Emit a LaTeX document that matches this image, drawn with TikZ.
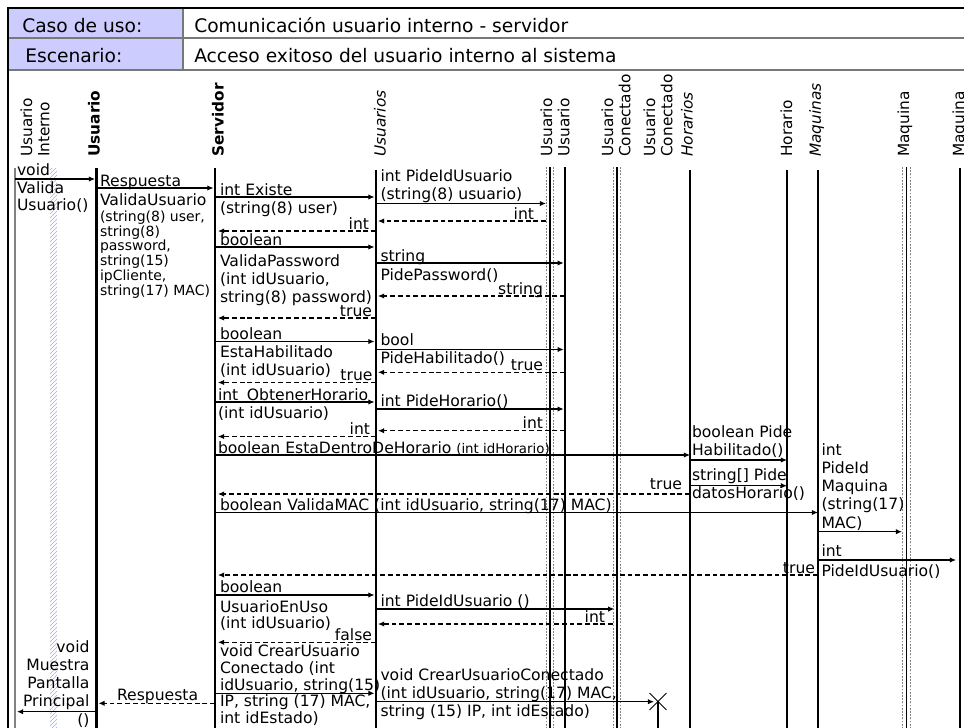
\documentclass[tikz,border=0pt]{standalone}
\usepackage{fontspec}
\setmainfont{DejaVu Sans}
\usetikzlibrary{arrows.meta,patterns,shapes.misc}

\definecolor{hdrfill}{RGB}{204,204,255}
\definecolor{rulegray}{RGB}{120,120,120}
\definecolor{hatchblue}{RGB}{170,170,230}
\definecolor{lifegray}{RGB}{130,130,130}

\tikzset{
  msg/.style={line width=0.8pt, -{Latex[length=4.6pt,width=4pt]}},
  ret/.style={dash pattern=on 3.6pt off 2.2pt},
  life/.style={line width=0.9pt},
  thicklife/.style={line width=2.2pt},
  boxedge/.style={line width=0.6pt, dash pattern=on 1.3pt off 1.1pt, lifegray},
  txt/.style={inner sep=0pt, outer sep=0pt, align=left, font=\fontsize{11.7}{13.5}\selectfont},
  small/.style={inner sep=0pt, outer sep=0pt, align=left, font=\fontsize{10.5}{9.6}\selectfont},
  head/.style={inner sep=0pt, anchor=base west, font=\fontsize{14}{16}\selectfont},
  lname/.style={inner sep=0pt, rotate=90, anchor=west, align=left, font=\fontsize{11.5}{12.8}\selectfont},
}

% a lifeline from its top down to the lower edge
\newcommand\lifeline[3][]{\draw[life,#1] (#2 |- 0,#3) -- (#2 |- 0,728);}
% a message between two lifelines at a given height
\newcommand\msgto[4][]{\draw[msg,#1] (#2 |- 0,#4) -- (#3 |- 0,#4);}

\begin{document}
\begin{tikzpicture}[x=0.75pt,y=-0.75pt]
\useasboundingbox (0,0) rectangle (964,728);

% ---- use case header table
\fill[hdrfill] (8,8) rectangle (183,70);
\draw[rulegray, line width=1.3pt] (8,38) -- (964,38);
\draw[rulegray, line width=1.1pt] (8,70) -- (964,70);
\draw[rulegray, line width=1pt] (183,8) -- (183,70);
\draw[line width=1.8pt] (964,8) -- (8,8) -- (8,728);

\node[head] (caso) at (22,32) {Caso de uso:};
\node[head] (casoval) at (194,32) {Comunicación usuario interno - servidor};
\node[head] (esc) at (25,62) {Escenario:};
\node[head] (escval) at (194,62) {Acceso exitoso del usuario interno al sistema};

% ---- participant names
\node[lname] (n-ui) at (35,157) {Usuario\\Interno};
\node[lname] (n-us) at (94,157) {\bfseries Usuario};
\node[lname] (n-sv) at (218,157) {\bfseries Servidor};
\node[lname] (n-uss) at (380,157) {\itshape Usuarios};
\node[lname] (n-uu) at (555,157) {Usuario\\Usuario};
\node[lname] (n-uc) at (616,157) {Usuario\\Conectado};
\node[lname] (n-ucn) at (658,157) {Usuario\\Conectado};
\node[lname] (n-hs) at (687,157) {\itshape Horarios};
\node[lname] (n-h) at (786.5,157) {Horario};
\node[lname] (n-ms) at (816.5,157) {\itshape Maquinas};
\node[lname] (n-m) at (905,157) {Maquina};
\node[lname] (n-m2) at (960,157) {Maquina};

% ---- lifeline positions
\coordinate (L-ui) at (15,0);
\coordinate (L-us) at (96.5,0);
\coordinate (L-sv) at (215,0);
\coordinate (L-uss) at (376,0);
\coordinate (L-uuL) at (546,0);
\coordinate (L-uu) at (550,0);
\coordinate (L-uuR) at (553,0);
\coordinate (L-uu2) at (565,0);
\coordinate (L-ucL) at (613,0);
\coordinate (L-uc) at (617,0);
\coordinate (L-ucR) at (620,0);
\coordinate (L-ucn) at (658,0);
\coordinate (L-hs) at (690,0);
\coordinate (L-h) at (787,0);
\coordinate (L-ms) at (818,0);
\coordinate (L-mL) at (902,0);
\coordinate (L-m) at (906.5,0);
\coordinate (L-mR) at (910,0);
\coordinate (L-m2) at (960,0);

% ---- lifelines
\fill[pattern=north east lines, pattern color=hatchblue] (50,168) rectangle (57,728);
\lifeline[lifegray,line width=0.8pt]{L-ui}{168}
\lifeline[thicklife]{L-us}{168}
\lifeline[thicklife]{L-sv}{168}
\lifeline[line width=1.1pt]{L-uss}{170}
\lifeline[boxedge]{L-uuL}{167}
\lifeline[boxedge]{L-uuR}{167}
\lifeline{L-uu}{167}
\lifeline{L-uu2}{167}
\lifeline[boxedge]{L-ucL}{167}
\lifeline[boxedge]{L-ucR}{167}
\lifeline{L-uc}{167}
\lifeline{L-hs}{170}
\lifeline{L-h}{170}
\lifeline{L-ms}{170}
\lifeline[boxedge]{L-mL}{167}
\lifeline[boxedge]{L-mR}{167}
\lifeline{L-m}{167}
\lifeline{L-m2}{168}
\node[draw, cross out, line width=0.7pt, minimum size=12pt, inner sep=0pt] (x-ucn) at (658,701.5) {};
\draw[life] (x-ucn.center) -- (L-ucn |- 0,728);

% ---- messages
\msgto[shorten >=1.1pt]{L-ui}{L-us}{179}
\msgto[shorten >=1.1pt]{L-us}{L-sv}{188}
\msgto[shorten >=1.1pt]{L-sv}{L-uss}{197}
\msgto{L-uss}{L-uuL}{203.5}
\msgto[ret,shorten >=1.5pt]{L-uuL}{L-uss}{221}
\msgto[ret,shorten >=2.2pt]{L-uss}{L-sv}{231}
\msgto[shorten >=1.1pt]{L-sv}{L-uss}{247}
\msgto[shorten >=1pt]{L-uss}{L-uu2}{263}
\msgto[ret,shorten >=1.5pt]{L-uu2}{L-uss}{296}
\msgto[ret,shorten >=2.2pt]{L-uss}{L-sv}{318}
\msgto[shorten >=1.1pt]{L-sv}{L-uss}{341.5}
\msgto[shorten >=1pt]{L-uss}{L-uu2}{349.5}
\msgto[ret,shorten >=1.5pt]{L-uu2}{L-uss}{372.3}
\msgto[ret,shorten >=2.2pt]{L-uss}{L-sv}{382.5}
\msgto[shorten >=1.1pt]{L-sv}{L-uss}{402}
\msgto[shorten >=1pt]{L-uss}{L-uu2}{409}
\msgto[ret,shorten >=1.5pt]{L-uu2}{L-uss}{430.7}
\msgto[ret,shorten >=2.2pt]{L-uss}{L-sv}{436.5}
\msgto{L-sv}{L-hs}{455}
\msgto{L-hs}{L-h}{460}
\msgto{L-hs}{L-h}{485.7}
\msgto[ret,shorten >=2.2pt]{L-hs}{L-sv}{494}
\msgto{L-sv}{L-ms}{512.5}
\msgto{L-ms}{L-mL}{531.7}
\msgto[shorten >=3pt]{L-ms}{L-m2}{560}
\msgto[ret,shorten >=2.2pt]{L-ms}{L-sv}{575}
\msgto[shorten >=1.1pt]{L-sv}{L-uss}{595}
\msgto[shorten >=2pt]{L-uss}{L-uc}{609}
\msgto[ret,shorten >=1.5pt]{L-ucL}{L-uss}{624}
\msgto[ret,shorten >=2.2pt]{L-uss}{L-sv}{642.3}
\msgto[shorten >=1.1pt]{L-sv}{L-uss}{693.3}
\msgto[shorten >=3pt]{L-uss}{L-ucn}{701.7}
\msgto[ret,shorten >=1.5pt]{L-sv}{L-us}{703.3}
\msgto[shorten >=1.5pt]{L-us}{L-ui}{711.7}

% ---- message texts
\node[txt, anchor=north west, font=\fontsize{11.7}{13.1}\selectfont] (m-valida) at (17,163.9) {void\\Valida\\Usuario()};
\node[txt, anchor=base west] (m-resp) at (100,186.5) {Respuesta};
\node[txt, anchor=base west] (m-validau) at (100,205) {ValidaUsuario};
\node[small, anchor=north west] (m-validaargs) at (100,210.5) {(string(8) user,\\string(8)\\password,\\string(15)\\ipCliente,\\string(17) MAC)};

\node[txt, anchor=north west] (m-existe) at (220,183.2) {int Existe\\(string(8) user)};
\node[txt, anchor=north west] (m-pideid) at (380.5,169.2) {int PideIdUsuario\\(string(8) usuario)};
\node[txt, anchor=base east] (r-int1) at (534,219.5) {int};
\node[txt, anchor=base east] (r-int2) at (369,229) {int};
\node[txt, anchor=base west] (m-bool1) at (220,245.5) {boolean};
\node[txt, anchor=north west] (m-validapw) at (220,254.7) {ValidaPassword\\(int idUsuario,\\string(8) password)};
\node[txt, anchor=base west] (m-string) at (380.5,261) {string};
\node[txt, anchor=base west] (m-pidepw) at (380.5,280) {PidePassword()};
\node[txt, anchor=base east] (r-string) at (543,294.5) {string};
\node[txt, anchor=base east] (r-true1) at (372,316.5) {true};
\node[txt, anchor=base west] (m-bool2) at (220,339.5) {boolean};
\node[txt, anchor=north west] (m-estahab) at (220,345.7) {EstaHabilitado\\(int idUsuario)};
\node[txt, anchor=base west] (m-boolb) at (380.5,345.5) {bool};
\node[txt, anchor=base west] (m-pidehab) at (380.5,363.5) {PideHabilitado()};
\node[txt, anchor=base east] (r-true2) at (543,370.5) {true};
\node[txt, anchor=base east] (r-true3) at (372.5,380.5) {true};
\node[txt, anchor=north west] (m-horario) at (218,388.2) {int\hspace{0.55em}ObtenerHorario\\(int idUsuario)};
\node[txt, anchor=base west] (m-pidehor) at (380.5,406.5) {int PideHorario()};
\node[txt, anchor=base east] (r-int3) at (543,428) {int};
\node[txt, anchor=base east] (r-int4) at (370,434.5) {int};
\node[txt, anchor=base west] (m-dentro) at (218,453.5) {boolean EstaDentroDeHorario {\fontsize{10}{12}\selectfont(int idHorario)}};
\node[txt, anchor=north west] (m-pidehab2) at (692,425.2) {boolean Pide\\Habilitado()};
\node[txt, anchor=north west] (m-datos) at (692,468.7) {string[] Pide\\datosHorario()};
\node[txt, anchor=base east] (r-true4) at (682,489) {true};
\node[txt, anchor=base west] (m-validamac) at (220,510.5) {boolean ValidaMAC (int idUsuario, string(17) MAC)};
\node[txt, anchor=north west, font=\fontsize{11.7}{13.7}\selectfont] (m-pidemaq) at (821.5,443.2) {int\\PideId\\Maquina\\(string(17)\\MAC)};
\node[txt, anchor=base west] (m-int5) at (821.5,556.7) {int};
\node[txt, anchor=base west] (m-pideidu2) at (821.5,576.7) {PideIdUsuario()};
\node[txt, anchor=base east] (r-true5) at (815,573) {true};
\node[txt, anchor=base west] (m-bool3) at (220,592.7) {boolean};
\node[txt, anchor=base west] (m-enuso) at (220,612.5) {UsuarioEnUso};
\node[txt, anchor=base west] (m-enusoarg) at (220,628.5) {(int idUsuario)};
\node[txt, anchor=base west] (m-pideid3) at (380.5,606) {int PideIdUsuario ()};
\node[txt, anchor=base east] (r-int5) at (605,622.5) {int};
\node[txt, anchor=base east] (r-false) at (372,640) {false};
\node[txt, anchor=north west, font=\fontsize{11.7}{12.6}\selectfont] (m-crear) at (220,644.7) {void CrearUsuario\\Conectado (int\\idUsuario, string(15)\\IP, string (17) MAC,\\int idEstado)};
\node[txt, anchor=north west] (m-crear2) at (380.5,668.2) {void CrearUsuarioConectado\\(int idUsuario, string(17) MAC,\\string (15) IP, int idEstado)};
\node[txt, anchor=base west] (r-resp) at (117,700) {Respuesta};
\node[txt, anchor=north east, align=right, font=\fontsize{11.7}{13.7}\selectfont] (m-muestra) at (89.5,640.2) {void\\Muestra\\Pantalla\\Principal\\()};
\end{tikzpicture}
\end{document}
